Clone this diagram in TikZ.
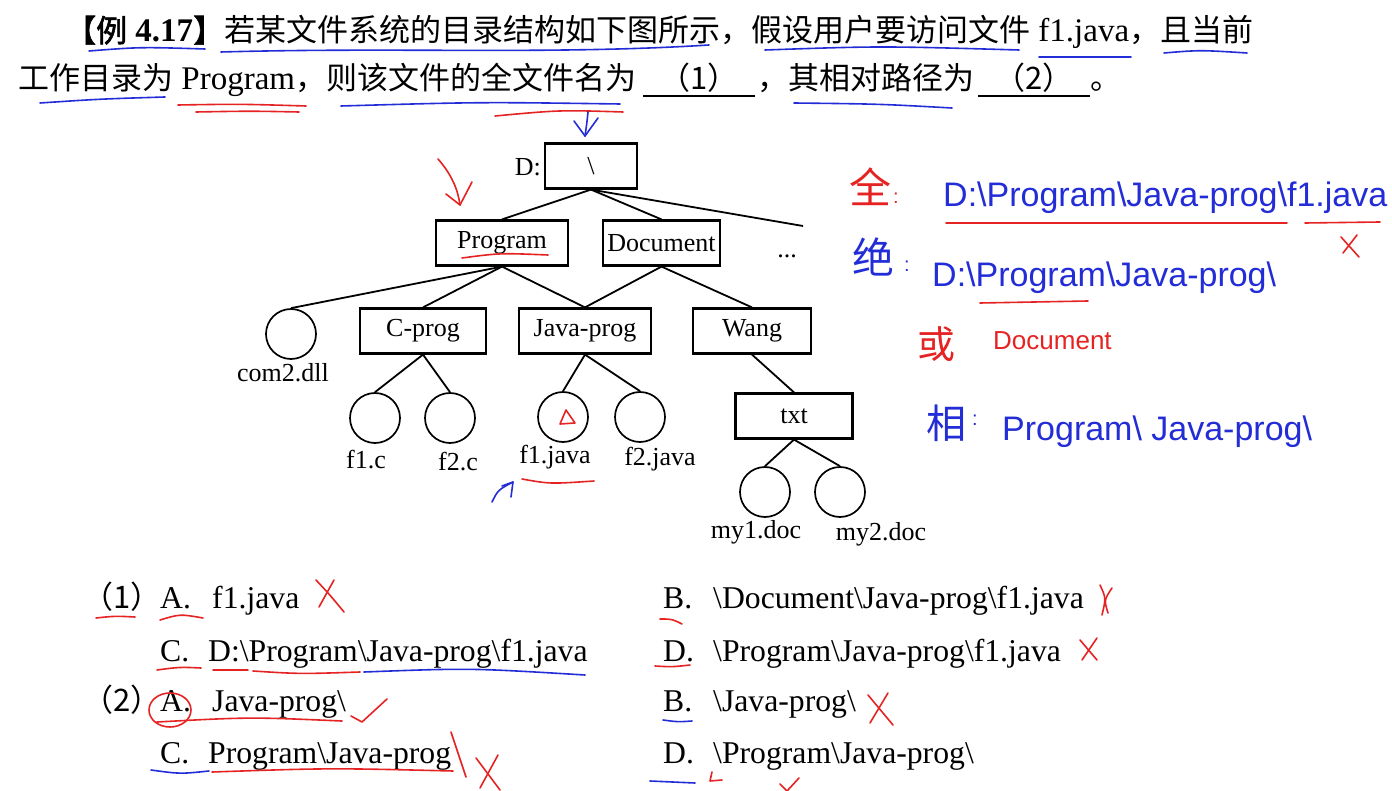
\documentclass[tikz,border=0pt]{standalone}
\usepackage{fontspec}
\setmainfont{Liberation Serif}
\newfontfamily\zh{Noto Sans CJK SC}
\newfontfamily\zhb{Noto Sans CJK SC}[FakeBold=2]
\newfontfamily\handf{Liberation Sans}
\definecolor{pblue}{RGB}{35,45,215}
\definecolor{pred}{RGB}{230,35,35}
\newcommand\zhtxt[1]{{\fontsize{31}{36}\selectfont\zh #1}}
\newcommand\zhbtxt[1]{{\fontsize{31}{36}\selectfont\zhb #1}}
\newcommand\bs{\textbackslash}
\begin{document}
\begin{tikzpicture}[x=1pt,y=-1pt,
  box/.style={draw, line width=2.2pt, inner sep=0pt, minimum height=45pt, font=\fontsize{26}{30}\selectfont},
  file/.style={draw, circle, line width=1.7pt, minimum size=50pt, inner sep=0pt},
  lbl/.style={font=\fontsize{26}{30}\selectfont, inner sep=0pt},
  conn/.style={line width=1.8pt},
  txt/.style={inner sep=0pt, font=\fontsize{33}{40}\selectfont, anchor=base west},
  opt/.style={inner sep=0pt, font=\fontsize{31.7}{38}\selectfont, anchor=base west},
  bpen/.style={pblue, line width=1.6pt, line cap=round, line join=round},
  rpen/.style={pred, line width=1.6pt, line cap=round, line join=round},
  handtxt/.style={inner sep=0pt, font=\fontsize{34}{40}\selectfont\handf},
  handzh/.style={inner sep=0pt, font=\fontsize{42}{46}\selectfont\zh},
]
\useasboundingbox[fill=white] (0,0) rectangle (1392,791);

% ---------- question text ----------
\node[txt] (l1) at (65,42) {\zhbtxt{【例} \textbf{4.17}\zhbtxt{】}\zhtxt{若某文件系统的目录结构如下图所示，假设用户要访问文件} f1.java\zhtxt{，且当前}};
\node[txt] (l2a) at (18,90) {\zhtxt{工作目录为} Program\zhtxt{，则该文件的全文件名为}};
\node[txt, anchor=base] (bl1) at (699,90) {\zhtxt{（1）}};
\node[txt] (l2b) at (757,90) {\zhtxt{，其相对路径为}};
\node[txt, anchor=base] (bl2) at (1034,90) {\zhtxt{（2）}};
\node[txt] (l2c) at (1090,90) {\zhtxt{。}};
\draw[line width=2.6pt] (643,96) -- (755,96);
\draw[line width=2.6pt] (978,96) -- (1090,96);

% ---------- tree ----------
\node[box, minimum width=92pt] (root) at (591,166) {\bs};
\node[lbl, anchor=east] (dlbl) at (541,167) {D:};
\node[box, minimum width=132pt] (prog) at (502,243) {Program};
\node[box, minimum width=117pt] (doc) at (661.5,243) {Document};
\node[lbl, anchor=base] (dots) at (787,258) {...};
\coordinate (dotsend) at (803,226);
\node[file] (com2) at (291,334) {};
\node[lbl] (com2l) at (283,373) {com2.dll};
\node[box, minimum width=126pt] (cprog) at (423,331) {C-prog};
\node[box, minimum width=132pt] (jprog) at (585,331) {Java-prog};
\node[box, minimum width=118pt] (wang) at (752,331) {Wang};
\node[file] (f1c) at (375,418) {};
\node[lbl] (f1cl) at (366,460) {f1.c};
\node[file] (f2c) at (450,418) {};
\node[lbl] (f2cl) at (458,462) {f2.c};
\node[file] (f1j) at (563,417) {};
\node[lbl] (f1jl) at (555,457) {f1.java};
\node[file] (f2j) at (640,417) {};
\node[lbl] (f2jl) at (660,459) {f2.java};
\node[box, minimum width=117pt] (txtb) at (794,416) {txt};
\node[file] (my1) at (765,492) {};
\node[lbl] (my1l) at (756,532) {my1.doc};
\node[file] (my2) at (840,492) {};
\node[lbl] (my2l) at (881,534) {my2.doc};

\draw[conn] (root.south) -- (prog.north);
\draw[conn] (root.south) -- (doc.north);
\draw[conn] (root.south) -- (dotsend);
\draw[conn] (prog.south) -- (com2.north);
\draw[conn] (prog.south) -- (cprog.north);
\draw[conn] (prog.south) -- (jprog.north);
\draw[conn] (doc.south) -- (jprog.north);
\draw[conn] (doc.south) -- (wang.north);
\draw[conn] (cprog.south) -- (f1c.north);
\draw[conn] (cprog.south) -- (f2c.north);
\draw[conn] (jprog.south) -- (f1j.north);
\draw[conn] (jprog.south) -- (f2j.north);
\draw[conn] (wang.south) -- (txtb.north);
\draw[conn] (txtb.south) -- (my1.north);
\draw[conn] (txtb.south) -- (my2.north);

% ---------- options ----------
\node[opt, anchor=base] (q1) at (122,608) {\zhtxt{（1）}};
\node[opt] (o1a) at (160,608) {A.};
\node[opt] (o1at) at (212,608) {f1.java};
\node[opt] (o1c) at (160,661) {C.};
\node[opt] (o1ct) at (208,661) {D:\bs Program\bs Java-prog\bs f1.java};
\node[opt, anchor=base] (q2) at (122,711) {\zhtxt{（2）}};
\node[opt] (o2a) at (160,711) {A.};
\node[opt] (o2at) at (212,711) {Java-prog\bs};
\node[opt] (o2c) at (160,763) {C.};
\node[opt] (o2ct) at (208,763) {Program\bs Java-prog};
\node[opt] (o1b) at (663,608) {B.};
\node[opt] (o1bt) at (713,608) {\bs Document\bs Java-prog\bs f1.java};
\node[opt] (o1d) at (663,661) {D.};
\node[opt] (o1dt) at (713,661) {\bs Program\bs Java-prog\bs f1.java};
\node[opt] (o2b) at (663,711) {B.};
\node[opt] (o2bt) at (713,711) {\bs Java-prog\bs};
\node[opt] (o2d) at (663,763) {D.};
\node[opt] (o2dt) at (713,763) {\bs Program\bs Java-prog\bs};

% ---------- handwritten notes ----------
\node[handzh, pred] (hq) at (870,187) {全};
\node[handtxt, pred, font=\fontsize{20}{24}\selectfont\handf] (hqc) at (896,198) {:};
\node[handtxt, pblue, anchor=base west] (h1) at (943,207) {D:\bs Program\bs Java-prog\bs f1.java};
\node[handzh, pblue] (hj) at (873,257) {绝};
\node[handtxt, pblue, font=\fontsize{20}{24}\selectfont\handf] (hjc) at (907,266) {:};
\node[handtxt, pblue, anchor=base west] (h2) at (932,287) {D:\bs Program\bs Java-prog\bs};
\node[handzh, pred, font=\fontsize{38}{42}\selectfont\zh] (hh) at (936,344) {或};
\node[handtxt, pred, anchor=base west, font=\fontsize{26}{30}\selectfont\handf] (h3) at (993,350) {Document};
\node[handzh, pblue, font=\fontsize{40}{44}\selectfont\zh] (hx) at (946,423) {相};
\node[handtxt, pblue, font=\fontsize{20}{24}\selectfont\handf] (hxc) at (975,420) {:};
\node[handtxt, pblue, anchor=base west] (h4) at (1002,440) {Program\bs{} Java-prog\bs};

% ---------- pen marks ----------
% top text underlines
\draw[bpen] (89,51) .. controls (140,47) .. (205,49);
\draw[bpen] (221,52) .. controls (400,47) and (550,55) .. (709,45);
\draw[bpen] (765,50) .. controls (880,46) .. (1019,50);
\draw[bpen] (1039,57) -- (1131,57);
\draw[bpen] (1164,53) .. controls (1200,50) .. (1247,53);
\draw[bpen] (40,103) .. controls (100,99) .. (165,97);
\draw[rpen] (178,105) .. controls (240,104) .. (306,106);
\draw[rpen] (196,112) .. controls (250,111) .. (299,112);
\draw[bpen] (341,106) .. controls (480,102) .. (620,104);
\draw[rpen] (495,116) .. controls (560,110) .. (623,112);
\draw[bpen] (794,103) .. controls (880,104) .. (952,108);
% tree marks
\draw[bpen] (588,112) .. controls (587,122) .. (585,136);
\draw[bpen] (574,121) -- (585,136) -- (598,118);
\draw[rpen] (438,159) .. controls (452,175) and (458,190) .. (460,205);
\draw[rpen] (446,194) -- (460,205) -- (472,182);
\draw[rpen] (462,258) .. controls (500,253) .. (548,255);
\draw[rpen] (560,424) -- (566,410) -- (575,423) -- cycle;
\draw[rpen] (522,479) .. controls (550,484) .. (594,481);
\draw[bpen] (492,502) .. controls (498,490) .. (513,482);
\draw[bpen] (502,486) -- (513,482) -- (511,497);
% note marks
\draw[rpen] (946,223) -- (1287,223);
\draw[rpen] (1305,223) -- (1380,222);
\draw[rpen] (1341,237) -- (1359,257);
\draw[rpen] (1357,235) -- (1343,253);
\draw[rpen] (980,303) -- (1088,301);
% option marks
\draw[rpen] (96,618) .. controls (115,616) .. (135,617);
\draw[rpen] (160,620) .. controls (180,614) .. (203,618);
\draw[rpen] (316,580) .. controls (330,595) .. (344,612);
\draw[rpen] (334,580) -- (319,607);
\draw[rpen] (157,670) .. controls (180,667) .. (201,668);
\draw[rpen] (213,670) -- (248,670);
\draw[rpen] (253,671) .. controls (300,674) .. (360,672);
\draw[bpen] (364,672) .. controls (470,668) .. (585,675);
\draw[rpen] (170,710) ellipse (21pt and 17pt);
\draw[rpen] (157,722) .. controls (250,717) .. (342,721);
\draw[rpen] (351,716) -- (362,722) -- (387,699);
\draw[bpen] (151,770) .. controls (180,774) .. (209,771);
\draw[rpen] (212,772) .. controls (330,768) .. (453,771);
\draw[rpen] (451,732) -- (466,777);
\draw[rpen] (476,758) -- (500,790);
\draw[rpen] (498,755) -- (480,788);
\draw[rpen] (660,619) .. controls (672,619) .. (682,624);
\draw[rpen] (1100,585) .. controls (1106,598) .. (1102,615);
\draw[rpen] (1112,588) .. controls (1104,600) .. (1108,613);
\draw[rpen] (655,666) .. controls (672,667) .. (690,665);
\draw[rpen] (1080,640) -- (1097,660);
\draw[rpen] (1097,638) -- (1082,660);
\draw[bpen] (663,720) .. controls (678,722) .. (692,721);
\draw[rpen] (868,695) -- (893,725);
\draw[rpen] (888,693) -- (870,723);
\draw[bpen] (650,781) .. controls (672,782) .. (695,783);
\draw[rpen] (712,772) -- (710,781) -- (722,780);
\draw[rpen] (780,784) -- (787,791) -- (799,778);
\end{tikzpicture}
\end{document}
